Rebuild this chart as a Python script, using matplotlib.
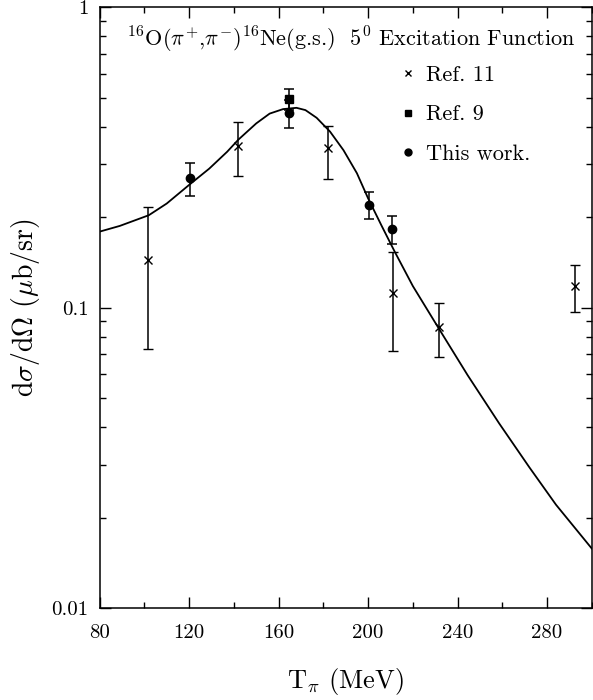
import numpy as np
import matplotlib
matplotlib.use("Agg")
import matplotlib.pyplot as plt
from matplotlib.ticker import LogLocator, NullFormatter, MultipleLocator
from matplotlib.lines import Line2D

plt.rcParams['font.family'] = 'serif'
plt.rcParams['font.serif'] = ['cmr10', 'DejaVu Serif']
plt.rcParams['mathtext.fontset'] = 'cm'
plt.rcParams['axes.formatter.use_mathtext'] = True

# Ref. 11 (crosses)
ref11_t = [101.6, 141.9, 182.3, 211.3, 231.5, 292.6]
ref11_y = [0.144, 0.345, 0.340, 0.112, 0.0863, 0.118]
ref11_lo = [0.0728, 0.275, 0.268, 0.0717, 0.0686, 0.0966]
ref11_hi = [0.216, 0.413, 0.403, 0.153, 0.104, 0.139]

# Ref. 9 (square)
ref9_t = [164.6]
ref9_y = [0.493]
ref9_lo = [0.455]
ref9_hi = [0.532]

# this work (filled circles)
tw_t = [120.5, 164.6, 200.6, 210.6]
tw_y = [0.269, 0.445, 0.219, 0.182]
tw_lo = [0.236, 0.397, 0.197, 0.163]
tw_hi = [0.303, 0.490, 0.242, 0.2017]

# calculated curve, points
curve_t = [80, 89, 102, 110, 120, 129, 137, 142, 150, 156, 162, 168, 172,
           177, 183, 189, 195, 200, 206, 212, 220, 231.5, 244.5, 258.6,
           272, 284, 300]
curve_y = [0.179, 0.187, 0.203, 0.222, 0.256, 0.290, 0.330, 0.362, 0.410,
           0.442, 0.4575, 0.462, 0.454, 0.428, 0.385, 0.334, 0.280, 0.231,
           0.1875, 0.153, 0.118, 0.0855, 0.0596, 0.0412, 0.0295, 0.0221,
           0.0158]


def yerr(y, lo, hi):
    y = np.array(y)
    return [y - np.array(lo), np.array(hi) - y]


fig = plt.figure(figsize=(5.93, 7.0), dpi=100)
ax = fig.add_axes([0.168, 0.131, 0.830, 0.859])

ax.plot(curve_t, curve_y, color='black', lw=1.3, solid_joinstyle='round')

kw = dict(color='black', elinewidth=1.1, capsize=3.5, capthick=1.1, ls='none')
ax.errorbar(ref11_t, ref11_y, yerr=yerr(ref11_y, ref11_lo, ref11_hi),
            marker='x', ms=6, mew=1.0, **kw)
ax.errorbar(ref9_t, ref9_y, yerr=yerr(ref9_y, ref9_lo, ref9_hi),
            marker='s', ms=5.8, **kw)
ax.errorbar(tw_t, tw_y, yerr=yerr(tw_y, tw_lo, tw_hi),
            marker='o', ms=6, **kw)

ax.set_yscale('log')
ax.set_xlim(80, 300)
ax.set_ylim(0.01, 1)
ax.set_xticks([80, 120, 160, 200, 240, 280])
ax.set_xticklabels(['80', '120', '160', '200', '240', '280'])
ax.xaxis.set_minor_locator(MultipleLocator(20))
ax.set_yticks([0.01, 0.1, 1])
ax.set_yticklabels(['0.01', '0.1', '1'])
ax.yaxis.set_minor_locator(LogLocator(base=10, subs=np.arange(2, 10)))
ax.yaxis.set_minor_formatter(NullFormatter())
ax.tick_params(which='both', direction='in', top=True, right=True,
               labelsize=15, width=1.0)
ax.tick_params(which='major', length=8)
ax.tick_params(axis='x', which='major', pad=11.5)
ax.tick_params(axis='y', which='major', pad=8)
ax.tick_params(which='minor', length=4.5)
for s in ax.spines.values():
    s.set_linewidth(1.1)

ax.set_xlabel(r'T$_\pi$ (MeV)', fontsize=19, labelpad=17)
ax.set_ylabel(r'd$\sigma$/d$\Omega$ ($\mu$b/sr)', fontsize=20, labelpad=7)

ax.text(0.055, 0.945,
        r'$^{16}$O($\pi^{+}$,$\pi^{-}$)$^{16}$Ne(g.s.)  5$^{0}$ Excitation Function',
        transform=ax.transAxes, fontsize=16, va='center', ha='left')

handles = [Line2D([], [], color='black', marker='x', ls='none', ms=5, mew=1.0),
           Line2D([], [], color='black', marker='s', ls='none', ms=5),
           Line2D([], [], color='black', marker='o', ls='none', ms=5)]
ax.legend(handles, ['Ref. 11', 'Ref. 9', 'This work.'], loc='upper left',
          bbox_to_anchor=(0.594, 0.918), frameon=False, fontsize=16,
          handlelength=0.6, handletextpad=0.55, labelspacing=0.9,
          borderaxespad=0)

fig.savefig('out.png', dpi=100)
